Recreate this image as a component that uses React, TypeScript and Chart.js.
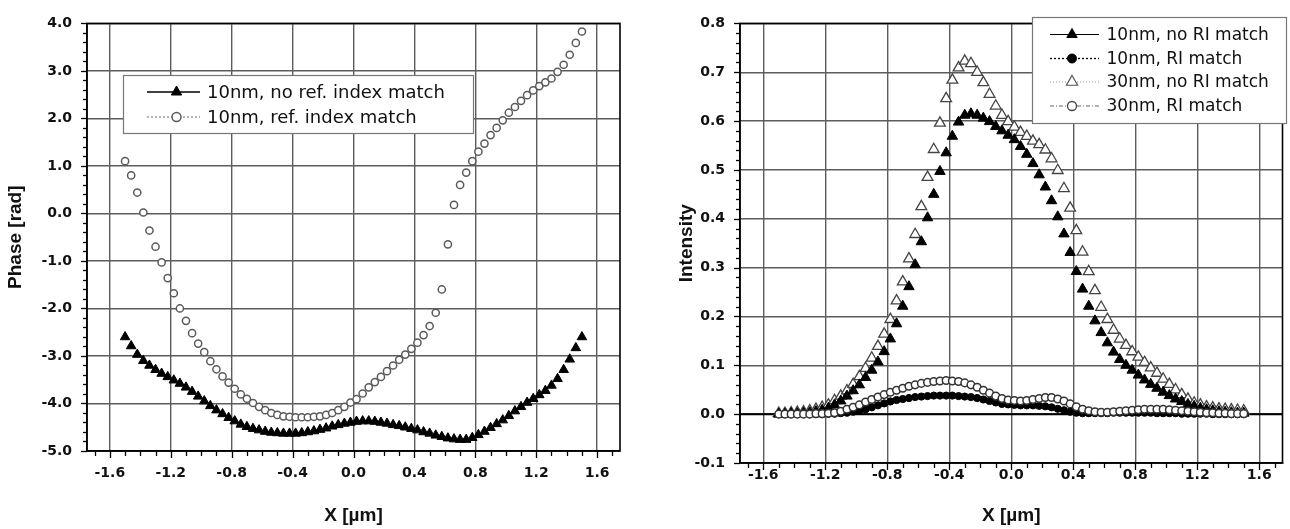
import { useEffect, useRef } from "react";
import { Chart, registerables } from "chart.js";

Chart.register(...registerables);

// ---------- data ----------
const X_UM = [
  -1.5, -1.46, -1.42, -1.38, -1.34, -1.3, -1.26, -1.22, -1.18, -1.14,
  -1.1, -1.06, -1.02, -0.98, -0.94, -0.9, -0.86, -0.82, -0.78, -0.74,
  -0.7, -0.66, -0.62, -0.58, -0.54, -0.5, -0.46, -0.42, -0.38, -0.34,
  -0.3, -0.26, -0.22, -0.18, -0.14, -0.1, -0.06, -0.02, 0.02, 0.06,
  0.1, 0.14, 0.18, 0.22, 0.26, 0.3, 0.34, 0.38, 0.42, 0.46,
  0.5, 0.54, 0.58, 0.62, 0.66, 0.7, 0.74, 0.78, 0.82, 0.86,
  0.9, 0.94, 0.98, 1.02, 1.06, 1.1, 1.14, 1.18, 1.22, 1.26,
  1.3, 1.34, 1.38, 1.42, 1.46, 1.5,
];

// Phase [rad], 10nm, no ref. index match (filled triangles)
const PHASE_NO_MATCH = [
  -2.6, -2.79, -2.97, -3.1, -3.2, -3.29, -3.37, -3.44, -3.51, -3.58,
  -3.66, -3.75, -3.85, -3.95, -4.05, -4.14, -4.22, -4.3, -4.37, -4.44,
  -4.49, -4.53, -4.56, -4.59, -4.61, -4.62, -4.63, -4.63, -4.63, -4.62,
  -4.6, -4.58, -4.55, -4.52, -4.48, -4.45, -4.42, -4.4, -4.38, -4.37,
  -4.37, -4.38, -4.4, -4.42, -4.45, -4.47, -4.5, -4.53, -4.56, -4.6,
  -4.63, -4.67, -4.7, -4.73, -4.75, -4.76, -4.76, -4.72, -4.66, -4.59,
  -4.51, -4.43, -4.35, -4.26, -4.16, -4.07, -3.98, -3.9, -3.82, -3.73,
  -3.62, -3.48, -3.29, -3.07, -2.83, -2.6,
];

// Phase [rad], 10nm, ref. index match (open circles)
const PHASE_MATCH = [
  1.1, 0.8, 0.44, 0.02, -0.36, -0.7, -1.03, -1.36, -1.68, -2.0,
  -2.26, -2.52, -2.74, -2.92, -3.11, -3.28, -3.43, -3.56, -3.69, -3.81,
  -3.9, -3.99, -4.07, -4.14, -4.2, -4.24, -4.27, -4.28, -4.29, -4.29,
  -4.29, -4.28, -4.27, -4.24, -4.2, -4.14, -4.07, -3.98, -3.91, -3.79,
  -3.66, -3.55, -3.44, -3.32, -3.2, -3.08, -2.97, -2.85, -2.72, -2.56,
  -2.37, -2.09, -1.6, -0.65, 0.18, 0.6, 0.86, 1.1, 1.3, 1.47,
  1.65, 1.8, 1.96, 2.12, 2.24, 2.37, 2.49, 2.59, 2.68, 2.76,
  2.84, 2.98, 3.13, 3.34, 3.59, 3.83,
];

// Intensity, 10nm, no RI match (filled triangles)
const INT_10_NO_RI = [
  0.0, 0.0, 0.001, 0.001, 0.002, 0.003, 0.005, 0.008, 0.012, 0.019,
  0.027, 0.037, 0.048, 0.06, 0.075, 0.09, 0.107, 0.128, 0.154, 0.185,
  0.221, 0.261, 0.306, 0.353, 0.402, 0.45, 0.497, 0.535, 0.569, 0.598,
  0.612, 0.615, 0.612, 0.606, 0.599, 0.589, 0.58, 0.571, 0.562, 0.548,
  0.532, 0.513, 0.49, 0.465, 0.437, 0.404, 0.369, 0.331, 0.292, 0.256,
  0.221, 0.191, 0.167, 0.146, 0.127, 0.112, 0.1, 0.09, 0.08, 0.07,
  0.061, 0.053, 0.045, 0.038, 0.031, 0.026, 0.02, 0.016, 0.012, 0.009,
  0.007, 0.005, 0.004, 0.003, 0.002, 0.002,
];

// Intensity, 10nm, RI match (filled circles)
const INT_10_RI = [
  0.0, 0.0, 0.0, 0.0, 0.0, 0.0, 0.0, 0.0, 0.001, 0.001,
  0.002, 0.003, 0.005, 0.007, 0.01, 0.014, 0.018, 0.022, 0.026, 0.029,
  0.031, 0.033, 0.035, 0.036, 0.037, 0.038, 0.038, 0.038, 0.038, 0.037,
  0.036, 0.035, 0.033, 0.03, 0.027, 0.024, 0.021, 0.02, 0.019, 0.018,
  0.018, 0.018, 0.017, 0.016, 0.014, 0.011, 0.008, 0.005, 0.003, 0.002,
  0.002, 0.002, 0.002, 0.002, 0.003, 0.003, 0.003, 0.003, 0.003, 0.003,
  0.003, 0.002, 0.002, 0.002, 0.002, 0.001, 0.001, 0.001, 0.001, 0.001,
  0.0, 0.0, 0.0, 0.0, 0.0, 0.0,
];

// Intensity, 30nm, no RI match (open triangles)
const INT_30_NO_RI = [
  0.002, 0.002, 0.003, 0.004, 0.005, 0.007, 0.01, 0.014, 0.019, 0.028,
  0.037, 0.048, 0.061, 0.077, 0.094, 0.115, 0.139, 0.164, 0.194, 0.232,
  0.271, 0.318, 0.368, 0.425, 0.485, 0.542, 0.596, 0.646, 0.684, 0.709,
  0.723, 0.718, 0.7, 0.679, 0.655, 0.631, 0.612, 0.599, 0.588, 0.577,
  0.569, 0.559, 0.552, 0.541, 0.523, 0.499, 0.462, 0.422, 0.376, 0.332,
  0.292, 0.253, 0.219, 0.194, 0.172, 0.154, 0.141, 0.128, 0.117, 0.106,
  0.095, 0.084, 0.072, 0.061, 0.05, 0.04, 0.031, 0.023, 0.019, 0.015,
  0.013, 0.011, 0.01, 0.009, 0.008, 0.007,
];

// Intensity, 30nm, RI match (open circles)
const INT_30_RI = [
  0.0, 0.0, 0.0, 0.0, 0.0, 0.0, 0.001, 0.001, 0.002, 0.003,
  0.006, 0.01, 0.014, 0.019, 0.025, 0.03, 0.035, 0.04, 0.045, 0.049,
  0.053, 0.057, 0.06, 0.063, 0.065, 0.067, 0.068, 0.069, 0.068, 0.067,
  0.064, 0.06, 0.055, 0.049, 0.043, 0.037, 0.032, 0.029, 0.028, 0.027,
  0.028, 0.03, 0.032, 0.034, 0.034, 0.031, 0.027, 0.021, 0.015, 0.01,
  0.007, 0.005, 0.004, 0.004, 0.005, 0.006, 0.007, 0.008, 0.009, 0.01,
  0.01, 0.01, 0.01, 0.009, 0.008, 0.007, 0.006, 0.005, 0.004, 0.003,
  0.003, 0.002, 0.002, 0.001, 0.001, 0.001,
];

const X_TICKS = [-1.6, -1.2, -0.8, -0.4, 0, 0.4, 0.8, 1.2, 1.6];
const PHASE_TICKS = [-5, -4, -3, -2, -1, 0, 1, 2, 3, 4];
const INTENSITY_TICKS = [-0.1, 0, 0.1, 0.2, 0.3, 0.4, 0.5, 0.6, 0.7, 0.8];

const LEFT_LEGEND = ["10nm, no ref. index match", "10nm, ref. index match"];
const RIGHT_LEGEND = ["10nm, no RI match", "10nm, RI match", "30nm, no RI match", "30nm, RI match"];

// ---------- helpers ----------
const TICK_FONT = { family: "'DejaVu Sans', sans-serif", weight: "bold" as const, size: 14 };
const TITLE_FONT = { family: "'Liberation Sans', Arial, sans-serif", weight: "bold" as const, size: 19 };

function drawMarker(
  ctx: CanvasRenderingContext2D,
  style: string,
  x: number,
  y: number,
  r: number,
  fill: string,
  stroke: string,
  lw: number
) {
  ctx.beginPath();
  if (style === "triangle") {
    for (let k = 0; k < 3; k++) {
      const a = (k * 2 * Math.PI) / 3;
      const px = x + Math.sin(a) * r;
      const py = y - Math.cos(a) * r;
      if (k === 0) ctx.moveTo(px, py);
      else ctx.lineTo(px, py);
    }
    ctx.closePath();
  } else {
    ctx.arc(x, y, r, 0, Math.PI * 2);
  }
  ctx.fillStyle = fill;
  ctx.fill();
  ctx.lineWidth = lw;
  ctx.strokeStyle = stroke;
  ctx.stroke();
}

const decorPlugin = {
  id: "decor",
  beforeDatasetsDraw(chart: any) {
    const o = chart.options.plugins.decor;
    if (!o || !o.zeroLine) return;
    const { ctx, chartArea: a, scales } = chart;
    const y = scales.y.getPixelForValue(0);
    ctx.save();
    ctx.strokeStyle = "#000";
    ctx.lineWidth = 2;
    ctx.beginPath();
    ctx.moveTo(a.left, y);
    ctx.lineTo(a.right, y);
    ctx.stroke();
    ctx.restore();
  },
  afterDatasetsDraw(chart: any) {
    const o = chart.options.plugins.decor;
    if (!o) return;
    const { ctx, chartArea: a, scales } = chart;
    ctx.save();
    // minor/major ticks x (outside, below)
    ctx.strokeStyle = "#000";
    ctx.lineWidth = 1.3;
    const xs = scales.x;
    for (let i = Math.ceil(xs.min / o.minorX - 1e-9); i * o.minorX <= xs.max + 1e-9; i++) {
      const v = i * o.minorX;
      const px = Math.round(xs.getPixelForValue(v)) + 0.5;
      const isMajor = Math.abs(v / 0.4 - Math.round(v / 0.4)) < 1e-6;
      ctx.beginPath();
      ctx.moveTo(px, a.bottom);
      ctx.lineTo(px, a.bottom + (isMajor ? 7 : 5));
      ctx.stroke();
    }
    // minor/major ticks y (outside, left)
    const ys = scales.y;
    for (let i = Math.ceil(ys.min / o.minorY - 1e-9); i * o.minorY <= ys.max + 1e-9; i++) {
      const v = i * o.minorY;
      const py = Math.round(ys.getPixelForValue(v)) + 0.5;
      const isMajor = Math.abs(v / o.majorY - Math.round(v / o.majorY)) < 1e-6;
      ctx.beginPath();
      ctx.moveTo(a.left - (isMajor ? 6 : 4), py);
      ctx.lineTo(a.left, py);
      ctx.stroke();
    }
    // frame
    ctx.lineWidth = 1.6;
    ctx.strokeStyle = "#000";
    ctx.strokeRect(a.left, a.top, a.right - a.left, a.bottom - a.top);

    // legend
    const lg = o.legend;
    if (lg) {
      ctx.fillStyle = "#fff";
      ctx.fillRect(lg.x, lg.y, lg.w, lg.h);
      ctx.lineWidth = 1.2;
      ctx.strokeStyle = "#777";
      ctx.strokeRect(lg.x + 0.5, lg.y + 0.5, lg.w, lg.h);
      ctx.font = lg.font;
      ctx.textBaseline = "middle";
      ctx.textAlign = "left";
      lg.rows.forEach((row: any, i: number) => {
        const y = lg.rowY[i];
        ctx.save();
        ctx.setLineDash(row.dash);
        ctx.lineWidth = row.lineWidth;
        ctx.strokeStyle = row.lineColor;
        ctx.beginPath();
        ctx.moveTo(lg.lineX1, y);
        ctx.lineTo(lg.lineX2, y);
        ctx.stroke();
        ctx.restore();
        drawMarker(ctx, row.style, lg.markerX, y, row.r, row.fill, row.stroke, row.lw);
        ctx.fillStyle = "#111";
        ctx.fillText(row.label, lg.textX, y + 1);
      });
    }
    ctx.restore();
  },
};

function pts(ys: number[]) {
  return X_UM.map((x, i) => ({ x, y: ys[i] }));
}

function xScale(height: number, pad: number) {
  return {
    type: "linear" as const,
    min: -1.75,
    max: 1.75,
    afterBuildTicks: (s: any) => {
      s.ticks = X_TICKS.map((v) => ({ value: v }));
    },
    afterFit: (s: any) => {
      s.height = height;
    },
    grid: { color: "#5c5c5c", lineWidth: 1.4, drawTicks: false },
    border: { display: true, color: "#000", width: 1.6 },
    ticks: {
      padding: pad,
      font: TICK_FONT,
      color: "#111",
      autoSkip: false,
      maxRotation: 0,
      callback: (v: any) => Number(v).toFixed(1),
    },
    title: { display: true, text: "X [µm]", font: TITLE_FONT, color: "#111", padding: { top: 0, bottom: 2 } },
  };
}

function yScale(width: number, min: number, max: number, ticks: number[], title: string, titlePad: number) {
  return {
    type: "linear" as const,
    min,
    max,
    afterBuildTicks: (s: any) => {
      s.ticks = ticks.map((v) => ({ value: v }));
    },
    afterFit: (s: any) => {
      s.width = width;
    },
    grid: { color: "#5c5c5c", lineWidth: 1.4, drawTicks: false },
    border: { display: true, color: "#000", width: 1.6 },
    ticks: {
      padding: 15,
      font: TICK_FONT,
      color: "#111",
      autoSkip: false,
      callback: (v: any) => Number(v).toFixed(1),
    },
    title: { display: true, text: title, font: TITLE_FONT, color: "#111", padding: { top: titlePad, bottom: 0 } },
  };
}

function PhaseChart() {
  const ref = useRef<HTMLCanvasElement | null>(null);
  useEffect(() => {
    if (!ref.current) return;
    const chart = new Chart(ref.current, {
      type: "scatter",
      data: {
        datasets: [
          {
            label: LEFT_LEGEND[0],
            data: pts(PHASE_NO_MATCH),
            showLine: false,
            pointStyle: "triangle",
            pointRadius: 5.5,
            pointBackgroundColor: "#000",
            pointBorderColor: "#000",
            pointBorderWidth: 1,
            order: 1,
          },
          {
            label: LEFT_LEGEND[1],
            data: pts(PHASE_MATCH),
            showLine: false,
            pointStyle: "circle",
            pointRadius: 3.6,
            pointBackgroundColor: "#fff",
            pointBorderColor: "#5a5a5a",
            pointBorderWidth: 1.5,
            order: 2,
          },
        ],
      },
      options: {
        animation: false,
        responsive: false,
        events: [],
        layout: { padding: { top: 17, right: 25, left: 0, bottom: 0 } },
        plugins: {
          legend: { display: false },
          tooltip: { enabled: false },
          decor: {
            minorX: 0.1,
            minorY: 0.2,
            majorY: 1,
            zeroLine: false,
            legend: {
              x: 123,
              y: 75,
              w: 350,
              h: 58,
              font: "18px 'DejaVu Sans', sans-serif",
              rowY: [92, 117],
              lineX1: 147,
              lineX2: 200,
              markerX: 176.5,
              textX: 207,
              rows: [
                { label: LEFT_LEGEND[0], dash: [], lineWidth: 1.3, lineColor: "#000", style: "triangle", r: 6, fill: "#000", stroke: "#000", lw: 1 },
                { label: LEFT_LEGEND[1], dash: [2, 2], lineWidth: 1.3, lineColor: "#8a8a8a", style: "circle", r: 4.5, fill: "#fff", stroke: "#5a5a5a", lw: 1.5 },
              ],
            },
          },
        } as any,
        scales: {
          x: xScale(78, 14) as any,
          y: yScale(87, -5, 4, PHASE_TICKS, "Phase [rad]", 4) as any,
        },
      },
      plugins: [decorPlugin],
    });
    return () => chart.destroy();
  }, []);
  return <canvas ref={ref} width={645} height={529} style={{ position: "absolute", left: 0, top: 0 }} />;
}

function IntensityChart() {
  const ref = useRef<HTMLCanvasElement | null>(null);
  useEffect(() => {
    if (!ref.current) return;
    const chart = new Chart(ref.current, {
      type: "scatter",
      data: {
        datasets: [
          {
            label: RIGHT_LEGEND[3],
            data: pts(INT_30_RI),
            showLine: false,
            pointStyle: "circle",
            pointRadius: 3.8,
            pointBackgroundColor: "#fff",
            pointBorderColor: "#333",
            pointBorderWidth: 1.5,
            order: 1,
          },
          {
            label: RIGHT_LEGEND[1],
            data: pts(INT_10_RI),
            showLine: false,
            pointStyle: "circle",
            pointRadius: 3.6,
            pointBackgroundColor: "#000",
            pointBorderColor: "#000",
            pointBorderWidth: 1,
            order: 2,
          },
          {
            label: RIGHT_LEGEND[0],
            data: pts(INT_10_NO_RI),
            showLine: false,
            pointStyle: "triangle",
            pointRadius: 6,
            pointBackgroundColor: "#000",
            pointBorderColor: "#000",
            pointBorderWidth: 1,
            order: 3,
          },
          {
            label: RIGHT_LEGEND[2],
            data: pts(INT_30_NO_RI),
            showLine: false,
            pointStyle: "triangle",
            pointRadius: 6.2,
            pointBackgroundColor: "#fff",
            pointBorderColor: "#444",
            pointBorderWidth: 1.3,
            order: 4,
          },
        ],
      },
      options: {
        animation: false,
        responsive: false,
        events: [],
        layout: { padding: { top: 15, right: 2, left: 0, bottom: 0 } },
        plugins: {
          legend: { display: false },
          tooltip: { enabled: false },
          decor: {
            minorX: 0.1,
            minorY: 0.02,
            majorY: 0.1,
            zeroLine: true,
            legend: {
              x: 387,
              y: 17,
              w: 254,
              h: 106,
              font: "17px 'DejaVu Sans', sans-serif",
              rowY: [34.5, 58.5, 82, 106],
              lineX1: 405,
              lineX2: 454,
              markerX: 427,
              textX: 461.5,
              rows: [
                { label: RIGHT_LEGEND[0], dash: [], lineWidth: 1.2, lineColor: "#000", style: "triangle", r: 6, fill: "#000", stroke: "#000", lw: 1 },
                { label: RIGHT_LEGEND[1], dash: [2, 2], lineWidth: 1.3, lineColor: "#000", style: "circle", r: 4.5, fill: "#000", stroke: "#000", lw: 1 },
                { label: RIGHT_LEGEND[2], dash: [1, 2], lineWidth: 1.2, lineColor: "#999", style: "triangle", r: 6.5, fill: "#fff", stroke: "#555", lw: 1.2 },
                { label: RIGHT_LEGEND[3], dash: [4, 2, 1, 2], lineWidth: 1.2, lineColor: "#666", style: "circle", r: 4.5, fill: "#fff", stroke: "#444", lw: 1.3 },
              ],
            },
          },
        } as any,
        scales: {
          x: xScale(66, 4) as any,
          y: yScale(95, -0.1, 0.8, INTENSITY_TICKS, "Intensity", 30) as any,
        },
      },
      plugins: [decorPlugin],
    });
    return () => chart.destroy();
  }, []);
  return <canvas ref={ref} width={645} height={529} style={{ position: "absolute", left: 645, top: 0 }} />;
}

export default function App() {
  return (
    <div style={{ position: "fixed", left: 0, top: 0, width: 1290, height: 529, background: "#fff", overflow: "hidden" }}>
      <PhaseChart />
      <IntensityChart />
    </div>
  );
}
